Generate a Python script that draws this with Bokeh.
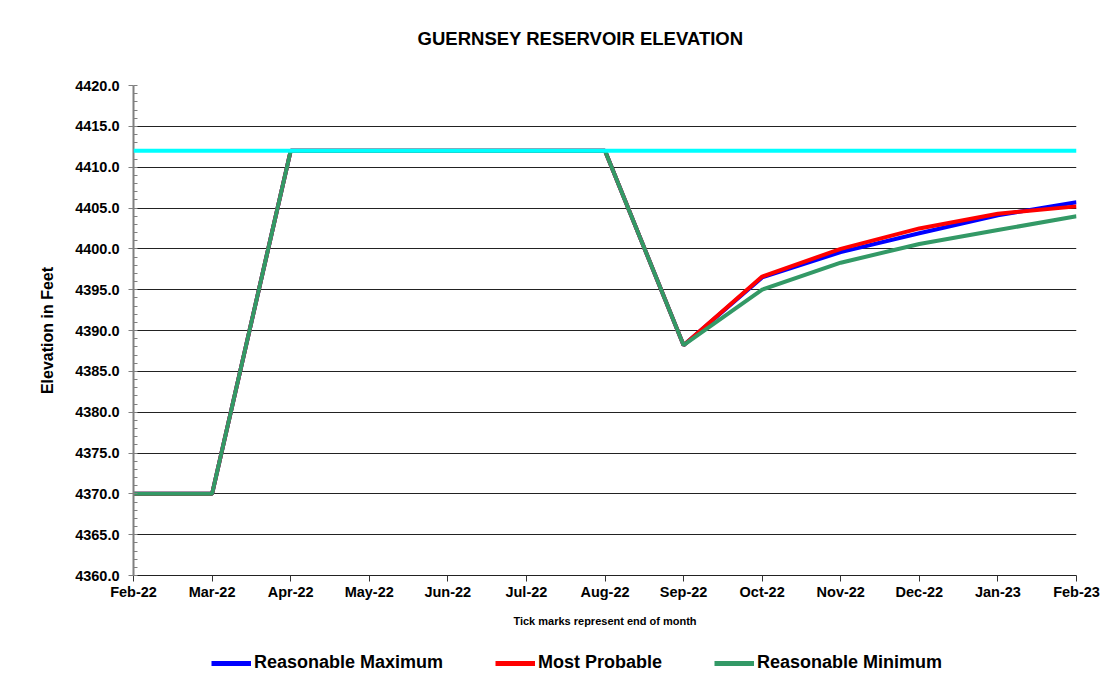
from bokeh.plotting import figure
from bokeh.layouts import column
from bokeh.models import (Range1d, FixedTicker, SingleIntervalTicker, NumeralTickFormatter,
                          Span, Legend, LegendItem, Label)
from bokeh.embed import file_html
from bokeh.resources import INLINE

# ---- data ----
months = ["Feb-22", "Mar-22", "Apr-22", "May-22", "Jun-22", "Jul-22", "Aug-22",
          "Sep-22", "Oct-22", "Nov-22", "Dec-22", "Jan-23", "Feb-23"]
reasonable_max = [4370.0, 4370.0, 4412.0, 4412.0, 4412.0, 4412.0, 4412.0,
                  4388.2, 4396.5, 4399.6, 4401.9, 4404.1, 4405.7]
most_probable = [4370.0, 4370.0, 4412.0, 4412.0, 4412.0, 4412.0, 4412.0,
                 4388.2, 4396.6, 4400.0, 4402.5, 4404.3, 4405.2]
reasonable_min = [4370.0, 4370.0, 4412.0, 4412.0, 4412.0, 4412.0, 4412.0,
                  4388.2, 4395.0, 4398.3, 4400.6, 4402.3, 4404.0]
series_names = ["Reasonable Maximum", "Most Probable", "Reasonable Minimum"]
series_colors = ["#0000FF", "#FF0000", "#339966"]
full_pool = 4412.0
y_min, y_max, y_step = 4360.0, 4420.0, 5.0
title_text = "GUERNSEY RESERVOIR ELEVATION"

FONT = "Liberation Sans"
W = 1100
FRAME_L, FRAME_R = 133, 1076   # frames of the stacked figures are aligned to the main one
x = list(range(len(months)))
series = [reasonable_max, most_probable, reasonable_min]


def bare_figure(h):
    f = figure(width=W, height=h, output_backend="svg", toolbar_location=None,
               x_axis_type=None, y_axis_type=None,
               x_range=Range1d(FRAME_L, FRAME_R), y_range=Range1d(0, h),
               min_border=0, min_border_left=0, min_border_right=0,
               min_border_top=0, min_border_bottom=0)
    f.outline_line_color = None
    f.xgrid.grid_line_color = None
    f.ygrid.grid_line_color = None
    f.background_fill_color = "white"
    f.border_fill_color = "white"
    return f


# ---- title strip ----
TOP_H = 75
ptitle = bare_figure(TOP_H)
ptitle.add_layout(Label(x=580, y=TOP_H - 38, text=title_text, text_font=FONT,
                        text_font_style="bold", text_font_size="18.5px",
                        text_color="black", text_align="center", text_baseline="middle"))

# ---- main chart ----
p = figure(frame_width=FRAME_R - FRAME_L, frame_height=490, output_backend="svg",
           toolbar_location=None,
           x_range=Range1d(0, len(months) - 1), y_range=Range1d(y_min, y_max),
           min_border_left=FRAME_L, min_border_right=W - FRAME_R,
           min_border_top=10, min_border_bottom=4)

p.outline_line_color = None
p.background_fill_color = "white"
p.border_fill_color = "white"

p.xgrid.grid_line_color = None
p.ygrid.grid_line_color = "#222222"
p.ygrid.grid_line_width = 1

p.xaxis.ticker = FixedTicker(ticks=x)
p.xaxis.major_label_overrides = {i: m for i, m in zip(x, months)}
p.xaxis.minor_tick_line_color = None
p.xaxis.major_tick_in = 0
p.xaxis.major_tick_out = 6
p.xaxis.major_tick_line_color = "#333333"
p.xaxis.axis_line_color = "#222222"
p.xaxis.major_label_text_font = FONT
p.xaxis.major_label_text_font_style = "bold"
p.xaxis.major_label_text_font_size = "14.5px"
p.xaxis.major_label_text_color = "black"
p.xaxis.major_label_standoff = 2
p.xaxis.axis_label = "Tick marks represent end of month"
p.xaxis.axis_label_text_font = FONT
p.xaxis.axis_label_text_font_style = "bold"
p.xaxis.axis_label_text_font_size = "11px"
p.xaxis.axis_label_text_color = "black"
p.xaxis.axis_label_standoff = 12

p.yaxis.ticker = SingleIntervalTicker(interval=y_step, num_minor_ticks=5)
p.yaxis.formatter = NumeralTickFormatter(format="0.0")
p.yaxis.major_tick_in = 0
p.yaxis.major_tick_out = 5
p.yaxis.minor_tick_in = 4
p.yaxis.minor_tick_out = 0
p.yaxis.axis_line_color = "#808080"
p.yaxis.axis_line_width = 2
p.yaxis.major_tick_line_color = "#808080"
p.yaxis.minor_tick_line_color = "#808080"
p.yaxis.major_label_text_font = FONT
p.yaxis.major_label_text_font_style = "bold"
p.yaxis.major_label_text_font_size = "14.5px"
p.yaxis.major_label_text_color = "black"
p.yaxis.major_label_standoff = 9
p.yaxis.axis_label = "Elevation in Feet"
p.yaxis.axis_label_text_font = FONT
p.yaxis.axis_label_text_font_style = "bold"
p.yaxis.axis_label_text_font_size = "16px"
p.yaxis.axis_label_text_color = "black"
p.yaxis.axis_label_standoff = 16

for vals, col in zip(series, series_colors):
    p.line(x, vals, line_color=col, line_width=4)

p.add_layout(Span(location=full_pool, dimension="width", line_color="#00FFFF", line_width=4))

# ---- legend strip (series drawn out of view so the legend swatches render) ----
LEG_H = 58
pleg = bare_figure(LEG_H)
items = []
for name, col, vals in zip(series_names, series_colors, series):
    r = pleg.line(x, vals, line_color=col, line_width=5)
    items.append(LegendItem(label=name, renderers=[r]))
legend = Legend(items=items, orientation="horizontal", location=(211 - FRAME_L, 14),
                glyph_width=40, glyph_height=20, label_standoff=3, spacing=52,
                padding=4, margin=0, border_line_color=None, background_fill_alpha=0,
                label_text_font=FONT, label_text_font_style="bold",
                label_text_font_size="18px", label_text_color="black")
pleg.add_layout(legend)

layout = column(ptitle, p, pleg, spacing=0)
open("out.html", "w").write(file_html(layout, INLINE))
